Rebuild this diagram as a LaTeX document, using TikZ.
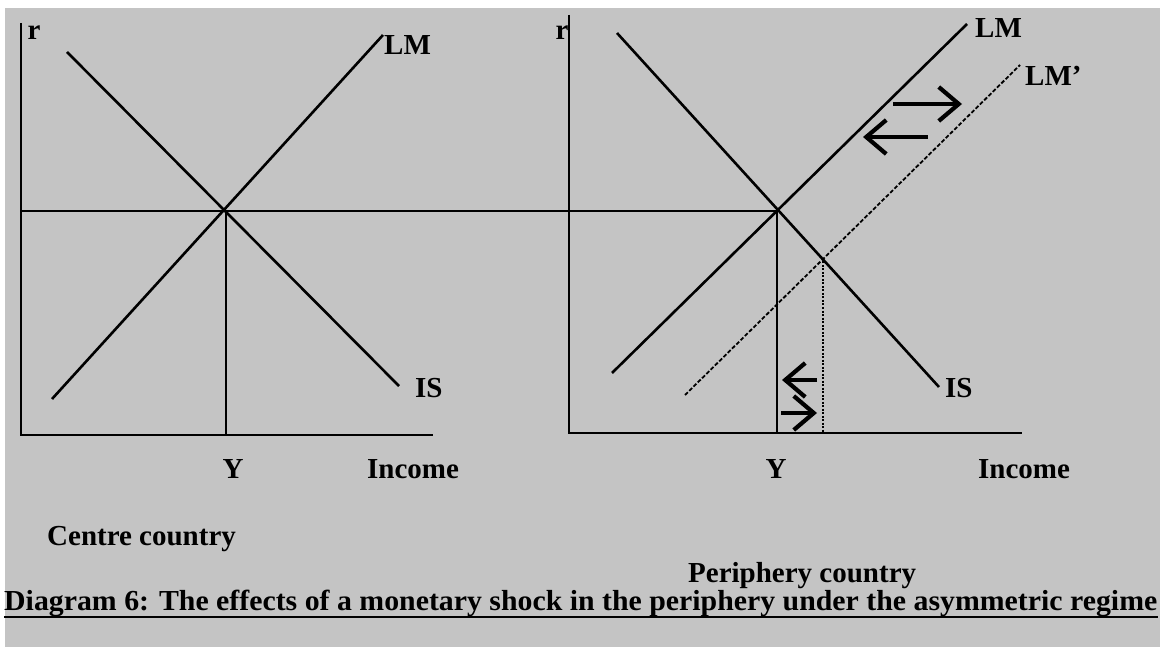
\documentclass[tikz,border=0pt]{standalone}
\usepackage{fontspec}
\setmainfont{Liberation Serif}
\usetikzlibrary{arrows.meta}
\definecolor{halftone}{HTML}{C4C4C4}
\tikzset{
  lbl/.style={font=\fontsize{29}{34}\selectfont\bfseries, inner sep=0pt},
  curve/.style={line width=2.6pt},
  axis/.style={line width=2.6pt},
  shifted/.style={line width=1.8pt, dash pattern=on 4pt off 2pt},
  guide/.style={line width=1.8pt, dash pattern=on 2pt off 1.5pt},
  move/.style={line width=4.2pt, -{Straight Barb[length=20pt,width=34pt]}},
}
\begin{document}
\begin{tikzpicture}[x=1pt,y=-1pt]
\useasboundingbox (0,0) rectangle (1160,647);
\fill[white] (0,0) rectangle (1160,647);
\fill[halftone] (5,8) rectangle (1160,647);
% ---- left panel (centre country)
\coordinate (rtopA) at (21,23);
\coordinate (OA) at (21,435);
\coordinate (xendA) at (433,435);
\coordinate (EA) at (226,211);
\coordinate (YA) at (226,435);
\coordinate (ISAa) at (67,52);
\coordinate (ISAb) at (399,386);
\coordinate (LMAa) at (52,399);
\coordinate (LMAb) at (383,35);
\coordinate (HA) at (21,211);
% ---- right panel (periphery country)
\coordinate (rtopB) at (569,15);
\coordinate (OB) at (569,433);
\coordinate (xendB) at (1022,433);
\coordinate (EB) at (777,211);
\coordinate (YB) at (777,433);
\coordinate (ISBa) at (617,33);
\coordinate (ISBb) at (939,387);
\coordinate (LMBa) at (612,373);
\coordinate (LMBb) at (967,24);
\coordinate (LMPa) at (685,395);
\coordinate (LMPb) at (1020,65);
\coordinate (EC) at (823,258);
\coordinate (YC) at (823,433);
% arrows
\coordinate (a1s) at (893,104);
\coordinate (a1e) at (962,104);
\coordinate (a2s) at (928,137);
\coordinate (a2e) at (863,137);
\coordinate (a3s) at (817,380);
\coordinate (a3e) at (782,380);
\coordinate (a4s) at (781,413);
\coordinate (a4e) at (817,413);

% left panel drawing
\draw[axis] (rtopA) -- (OA) -- (xendA);
\draw[curve] (ISAa) -- (ISAb);
\draw[curve] (LMAa) -- (LMAb);
\draw[curve] (HA) -- (EB);
\draw[curve] (EA) -- (YA);
% right panel drawing
\draw[axis] (rtopB) -- (OB) -- (xendB);
\draw[curve] (ISBa) -- (ISBb);
\draw[curve] (LMBa) -- (LMBb);
\draw[shifted] (LMPa) -- (LMPb);
\draw[curve] (EB) -- (YB);
\draw[guide] (EC) -- (YC);
\draw[move] (a1s) -- (a1e);
\draw[move] (a2s) -- (a2e);
\draw[move] (a3s) -- (a3e);
\draw[move] (a4s) -- (a4e);

% labels
\node[lbl, anchor=base] (rA) at (34,40) {r};
\node[lbl, anchor=base west] (LMAl) at (384,55) {LM};
\node[lbl, anchor=base west] (ISAl) at (415,397) {IS};
\node[lbl, anchor=base] (YAl) at (233,478) {Y};
\node[lbl, anchor=base west] (IncA) at (367,478) {Income};
\node[lbl, anchor=base west] (cc) at (47,545) {Centre country};
\node[lbl, anchor=base] (rB) at (562,40) {r};
\node[lbl, anchor=base west] (LMBl) at (975,38) {LM};
\node[lbl, anchor=base west] (LMPl) at (1025,86) {LM'};
\node[lbl, anchor=base west] (ISBl) at (945,397) {IS};
\node[lbl, anchor=base] (YBl) at (776,478) {Y};
\node[lbl, anchor=base west] (IncB) at (978,478) {Income};
\node[lbl, anchor=base west] (pc) at (688,582) {Periphery country};
\node[lbl, anchor=base west] (cap) at (4,610) {\resizebox{1153pt}{\height}{Diagram 6: The effects of a monetary shock in the periphery under the asymmetric regime}};
\draw[line width=2.5pt] ([yshift=-7pt]cap.base west) -- ([yshift=-7pt]cap.base east);
\end{tikzpicture}
\end{document}
